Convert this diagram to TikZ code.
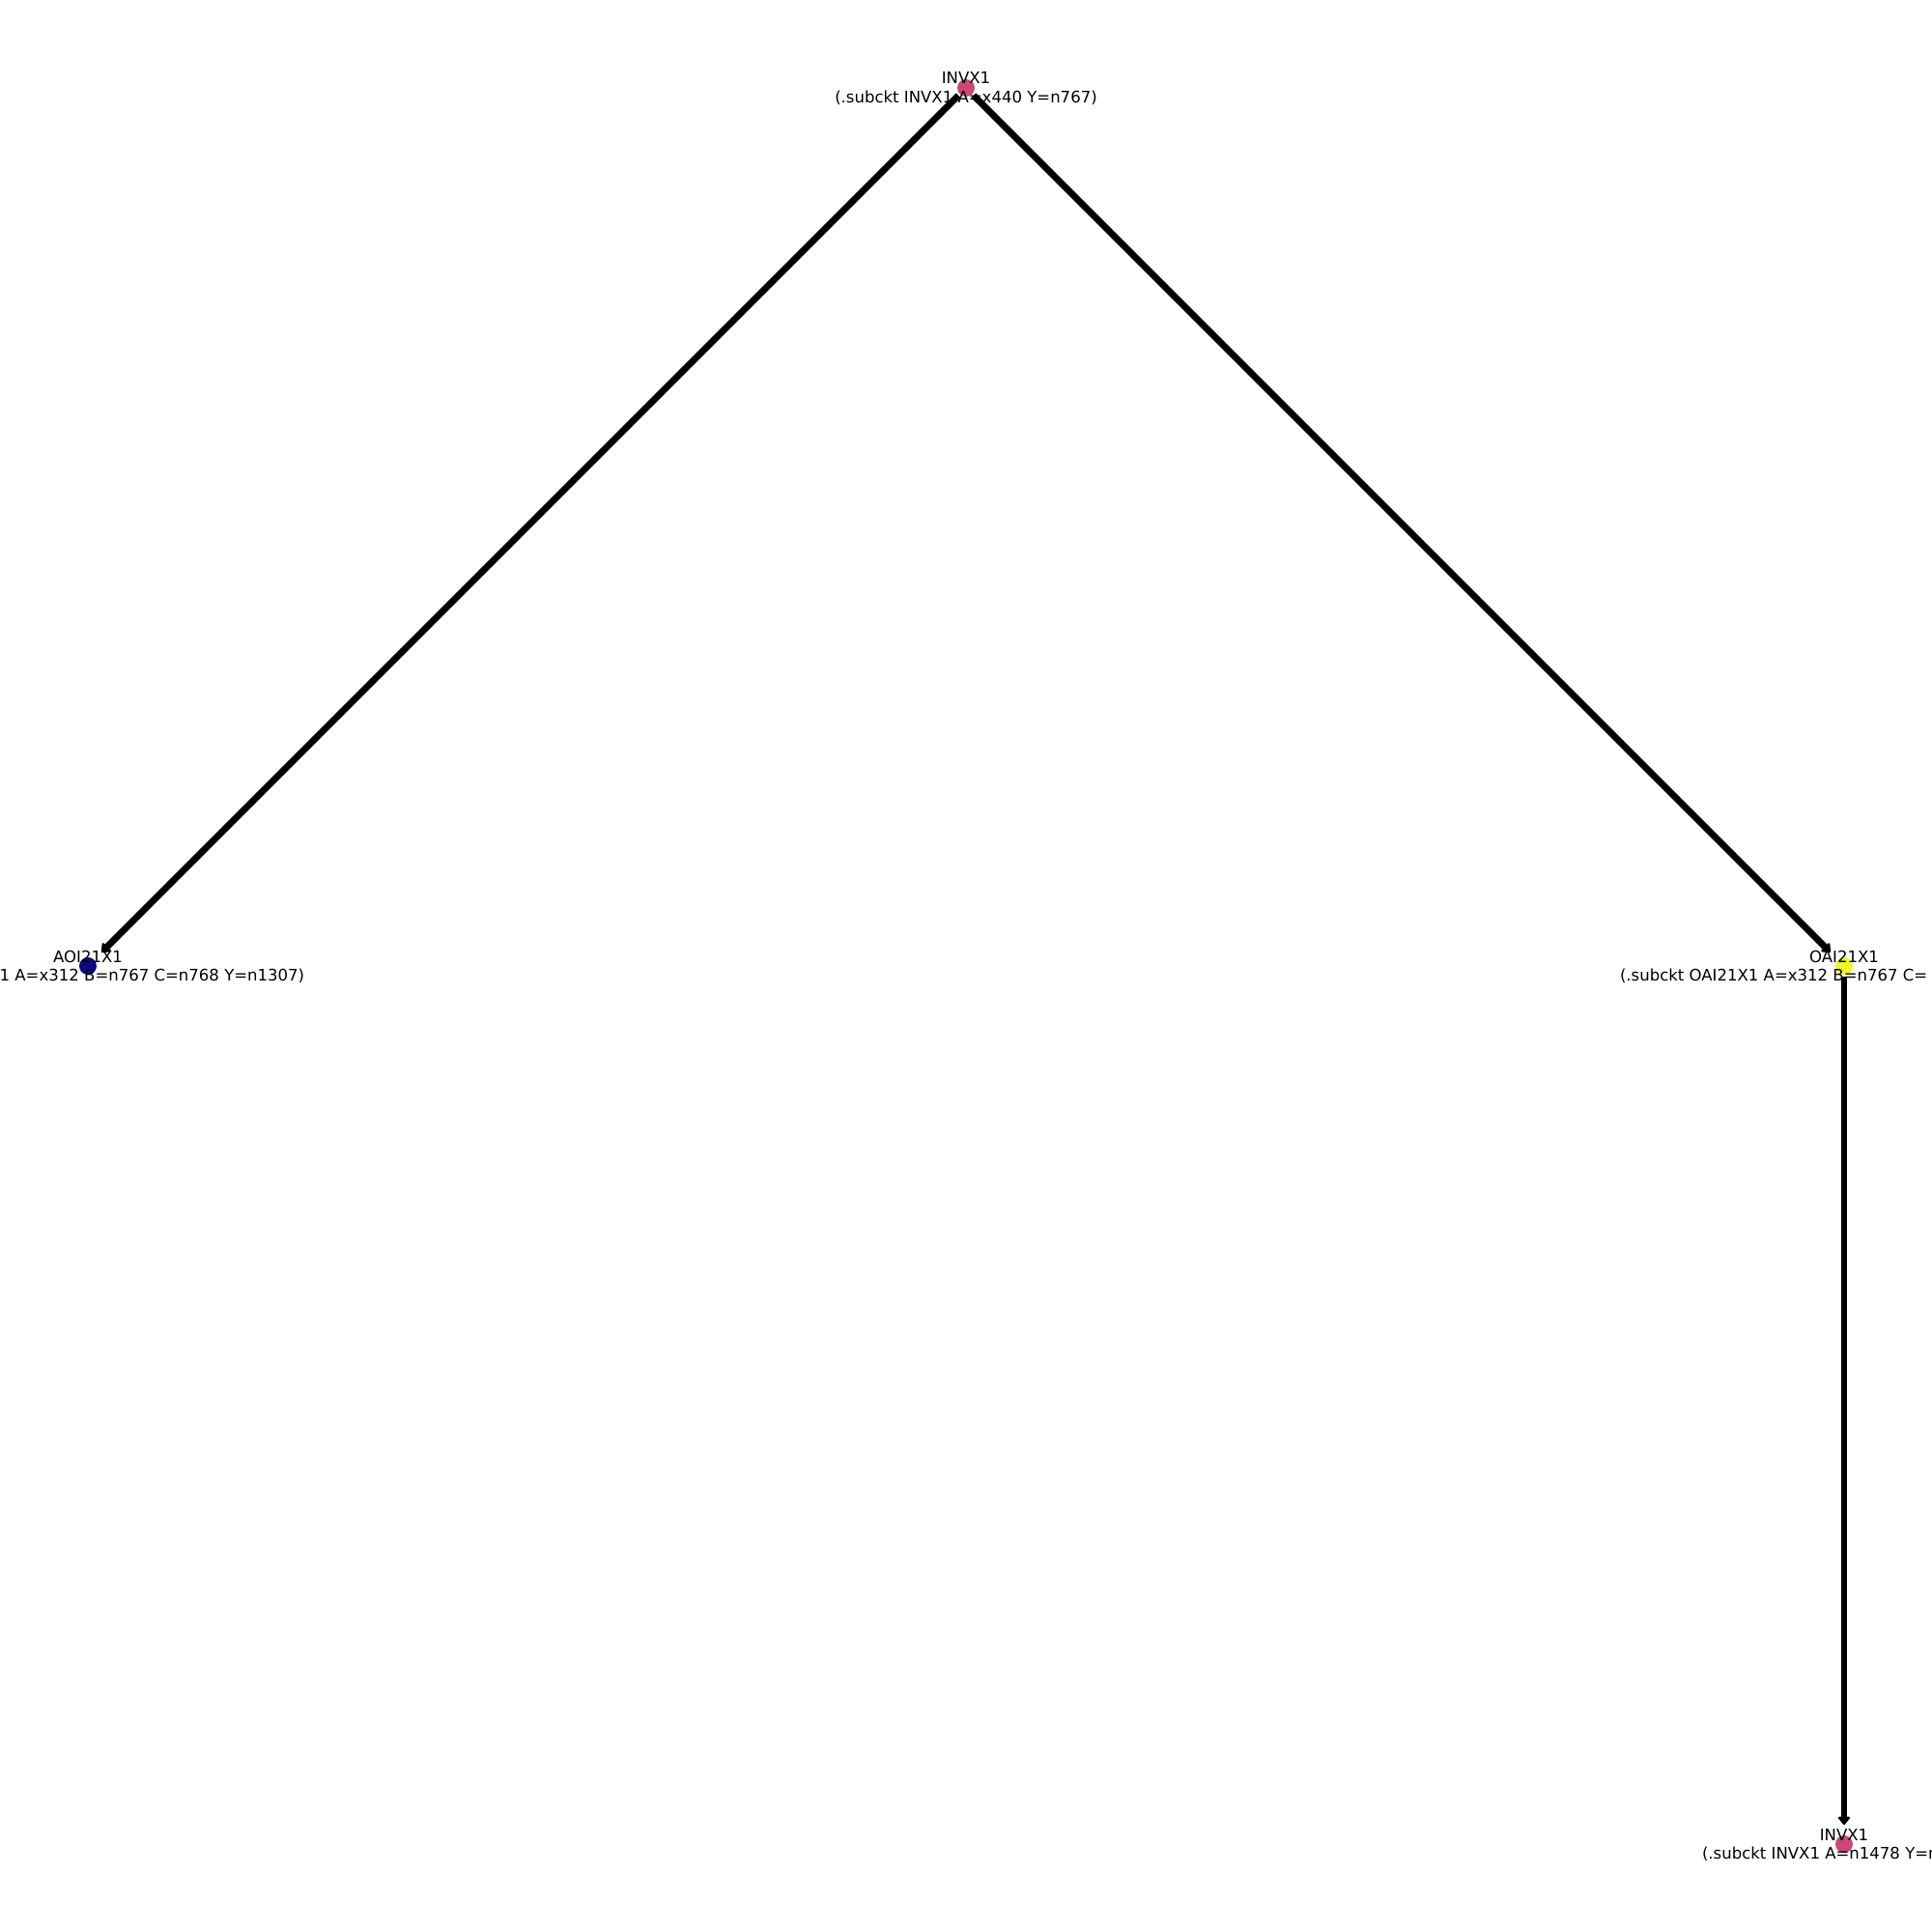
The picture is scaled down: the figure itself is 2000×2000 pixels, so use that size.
\documentclass[tikz,border=0pt]{standalone}
\usepackage{fontspec}
\setmainfont{DejaVu Sans}
\usetikzlibrary{arrows.meta}
\definecolor{plpink}{HTML}{CC4778}
\definecolor{plnavy}{HTML}{0D0887}
\definecolor{plyellow}{HTML}{F0F921}
\begin{document}
\begin{tikzpicture}[x=0.01cm,y=-0.01cm,
  gate/.style={circle,minimum size=0.18cm,inner sep=0pt,outer sep=0pt},
  lbl/.style={inner sep=0pt,outer sep=0pt,anchor=base,font=\fontsize{4.7}{5.6}\selectfont},
  edge/.style={line width=0.068cm,draw=black,shorten <=0.02cm,shorten >=0.11cm,
    -{Triangle[length=0.09cm,width=0.14cm,round]}}]
\useasboundingbox (0,0) rectangle (2000,2000);
\clip (0,0) rectangle (2000,2000);
% connections (drawn beneath the gates)
\coordinate (topC) at (1000,91);
\coordinate (leftC) at (91,1000);
\coordinate (rightC) at (1909,1000);
\coordinate (botC) at (1909,1909);
\node[gate] (top)   at (topC)   {};
\node[gate] (left)  at (leftC)  {};
\node[gate] (right) at (rightC) {};
\node[gate] (bot)   at (botC)   {};
\draw[edge] (top) -- (left);
\draw[edge] (top) -- (right);
\draw[edge] (right) -- (bot);
% gates
\fill[plpink]   (topC)   circle (9);
\fill[plnavy]   (leftC)  circle (9);
\fill[plyellow] (rightC) circle (9);
\fill[plpink]   (botC)   circle (9);
% labels
\node[lbl] (topT) at (1000,87) {INVX1};
\node[lbl] (topD) at (1000,106.7) {(.subckt INVX1 A=x440 Y=n767)};
\node[lbl] (leftT) at (91,996) {AOI21X1};
\node[lbl] (leftD) at (91,1015.7) {(.subckt AOI21X1 A=x312 B=n767 C=n768 Y=n1307)};
\node[lbl] (rightT) at (1909,996) {OAI21X1};
\node[lbl,anchor=base west] (rightD) at (1677,1015.7) {(.subckt OAI21X1 A=x312 B=n767 C=};
\node[lbl] (botT) at (1909,1905) {INVX1};
\node[lbl,anchor=base west] (botD) at (1762,1924.7) {(.subckt INVX1 A=n1478 Y=n};
\end{tikzpicture}
\end{document}
